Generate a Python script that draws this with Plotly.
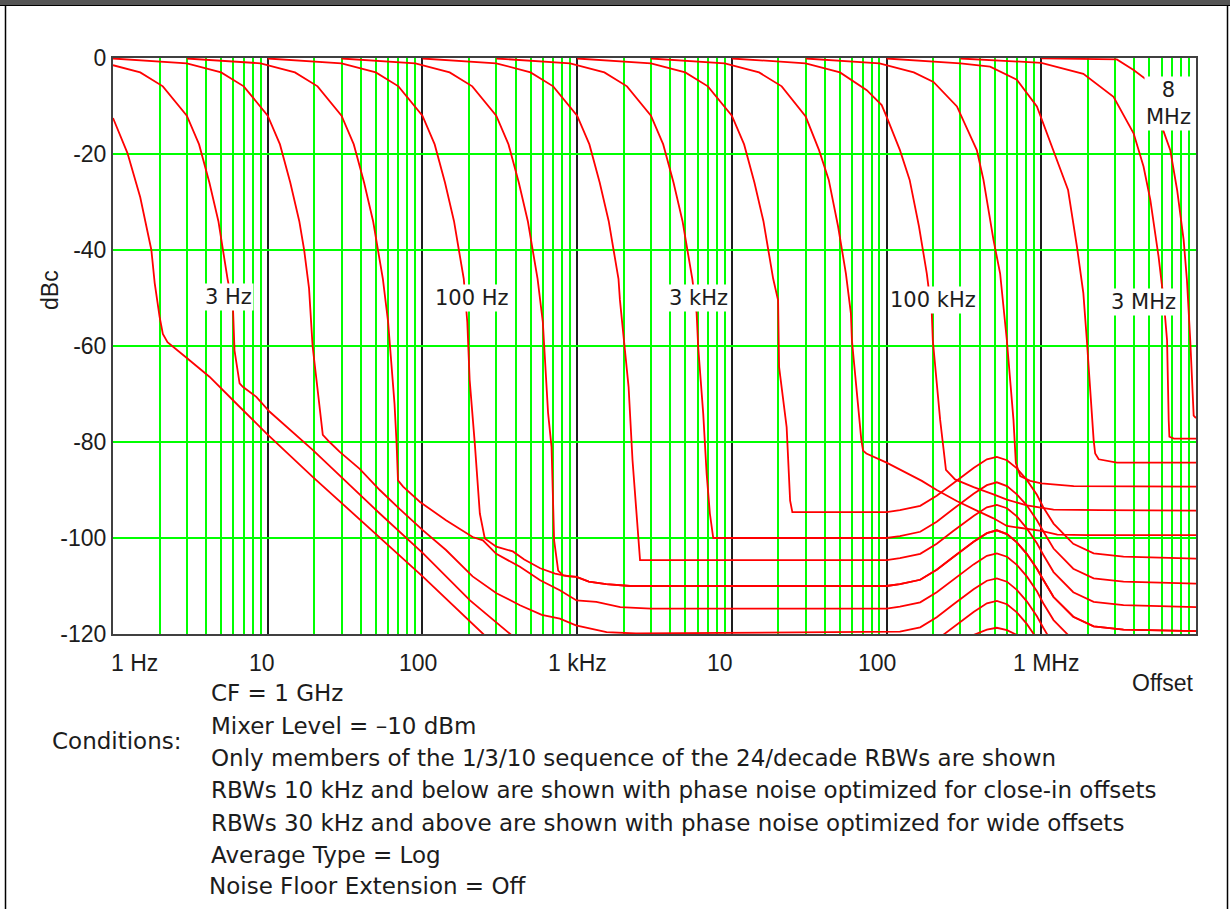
import plotly.graph_objects as go

# ---------------- data (offset in Hz, level in dBc) ----------------
# close-in optimized RBWs: filter skirt / phase-noise part
f_1hz = [1, 1.24, 1.5, 1.77, 1.86, 2.0, 2.1, 2.25, 3.0, 4.2, 6.5, 9.8, 19.6, 53, 101, 247, 300, 1000]
db_1hz = [-12.5, -19.8, -29, -40, -46.9, -53.9, -57.5, -59.2, -62.5, -66.4, -72.5, -78.2, -87.3, -99.8, -108.1, -120, -122.5, -130]

f_3hz = [1, 1.5, 2.1, 3, 3.6, 4.2, 4.8, 5.13, 5.5, 5.96, 6.1, 6.58, 6.9, 8.44, 10.3, 19.6, 53, 101, 203, 369, 420, 1000]
db_3hz = [-1.5, -3, -5.9, -12, -18, -26, -34, -40, -46, -51.9, -60.9, -67.8, -68.5, -70.6, -73.7, -81.7, -94.9, -103.2, -113, -120, -121.5, -124.6]

f_10hz = [1, 3, 5, 7, 10, 12, 14, 16, 17.2, 18.5, 19.5, 20.6, 21.6, 22.7, 25.1, 29.1, 39.3, 53, 71.4, 100, 142, 211, 301,
          427, 591, 773, 982, 1550, 2400]
db_10hz = [-0.1, -1.1, -3, -5.9, -12, -18, -26, -34, -40, -48, -60, -67, -73, -78.5, -80, -82, -85.6, -90, -94, -98.3, -102.5,
           -108, -111.5, -114, -116, -116.8, -118.2, -119.6, -119.9]

f_30hz = [3, 9, 15, 21, 30, 36, 42, 48, 51.6, 55.5, 60, 63, 66, 68, 69.5, 75, 96.5, 142, 211, 246, 300, 427, 577, 773, 991,
          1330, 1900, 3000]
db_30hz = [-0.1, -1.1, -3, -5.9, -12, -18, -26, -34, -40, -46, -55, -64, -72, -80, -88, -89.3, -92.5, -96.3, -99.8, -100.5,
           -103.3, -106, -108.8, -110.9, -113, -113.3, -114.4, -114.7]

f_100hz = [10, 30, 50, 70, 100, 120, 140, 160, 172, 185, 195, 202, 218, 235, 253, 300, 384, 455, 577, 720, 880, 991, 1190,
           1540, 2200]
db_100hz = [-0.1, -1.1, -3, -5.9, -12, -18, -26, -34, -40, -46, -55, -67.1, -80.3, -94.9, -100.1, -101.8, -102.8, -104.5,
            -106.3, -107.4, -108, -108.1, -109.1, -109.6, -110]

f_300hz = [30, 90, 150, 210, 300, 360, 420, 480, 516, 555, 600, 634, 649, 683, 699, 710, 754, 811, 991, 1190, 1540, 2200]
db_300hz = [-0.1, -1.1, -3, -5.9, -12, -18, -26, -34, -40, -46, -55, -67.1, -74, -81, -91.4, -100.5, -106.8, -107.8, -108.1,
            -109.1, -109.6, -110]

f_1khz = [100, 300, 500, 700, 1000, 1200, 1400, 1600, 1720, 1850, 1890, 1990, 2150, 2280, 2420, 2550]
db_1khz = [-0.1, -1.1, -3, -5.9, -12, -18, -26, -34, -40, -46, -50.4, -57.4, -68.5, -83.8, -94.9, -104.6]

f_3khz = [300, 900, 1500, 2100, 3000, 3600, 4200, 4800, 5160, 5550, 5920, 6060, 6530, 6870, 7210, 7580]
db_3khz = [-0.1, -1.1, -3, -5.9, -12, -18, -26, -34, -40, -46, -53.2, -60.2, -74.1, -86.6, -94.9, -100]

f_10khz = [1000, 3000, 5000, 7000, 10000, 12000, 14000, 16000, 17200, 18500, 19900, 20200, 22600, 23800, 24600]
db_10khz = [-0.1, -1.1, -3, -5.9, -12, -18, -26, -34, -40, -46, -50.5, -64.4, -76.9, -92.2, -94.6]

# close-in optimized RBWs: plateau, loop-bandwidth bump, far-out level
bump_off = [100e3, 122e3, 165e3, 211e3, 271e3, 365e3, 445e3, 516e3, 600e3, 695e3, 806e3, 937e3, 1.03e6, 1.2e6, 1.61e6,
            2.18e6, 3.4e6, 10e6]
bump_1hz = [-130, -129.6, -128.7, -126.6, -123.4, -120.2, -119.1, -118.7, -119.2, -120.2, -121.8, -125, -128.8, -132, -136,
            -138, -139, -139]
bump_3hz = [-124.6, -124.2, -123.3, -121.2, -118.5, -115.4, -113.6, -113.1, -113.8, -115.5, -117.9, -121.0, -123.4, -127,
            -131, -133, -134, -134]
bump_10hz = [-119.6, -119.5, -118.6, -116.5, -113.8, -110.7, -108.9, -108.4, -109.1, -110.8, -113.2, -116.3, -118.7, -122.3,
             -126.5, -128.5, -129.2, -129.5]
bump_30hz = [-114.7, -114.3, -113.4, -111.3, -108.6, -105.5, -103.7, -103.2, -103.9, -105.6, -108.0, -111.1, -113.6, -117.1,
             -121.3, -123.3, -124.0, -124.4]
bump_100hz = [-110.0, -109.6, -108.7, -106.6, -103.9, -100.8, -99.0, -98.4, -99.2, -100.9, -103.3, -106.4, -108.7, -112.3,
              -116.4, -118.4, -119.1, -119.4]
bump_300hz = [-110.0, -109.6, -108.7, -106.6, -103.9, -100.8, -99.0, -98.4, -99.2, -100.9, -103.3, -106.4, -108.7, -112.3,
              -116.4, -118.4, -119.1, -119.4]
bump_1khz = [-104.6, -104.2, -103.3, -101.2, -98.5, -95.4, -93.6, -93.1, -93.8, -95.5, -98.0, -101.1, -103.5, -107.1, -111.3,
             -113.3, -114.0, -114.4]
bump_3khz = [-100.0, -99.6, -98.7, -96.6, -93.9, -90.8, -89.0, -88.4, -89.2, -90.9, -93.2, -96.3, -98.6, -102.2, -106.4,
             -108.4, -109.1, -109.5]
bump_10khz = [-94.6, -94.2, -93.3, -91.2, -88.5, -85.4, -83.6, -83.1, -83.8, -85.5, -87.9, -91.0, -93.6, -97.0, -101.2,
              -103.2, -103.9, -104.3]

# wide-offset optimized RBWs
f_30khz = [3e3, 9e3, 15e3, 21e3, 30e3, 36.6e3, 42.3e3, 48.6e3, 54.6e3, 58.8e3, 59.7e3, 66.6e3, 68.7e3, 70.5e3, 74e3, 100e3,
           135e3, 169e3, 211e3, 284e3, 383e3, 491e3, 599e3, 806e3, 1.0e6, 1.27e6, 2e6, 10e6]
db_30khz = [-0.1, -1.1, -3, -5.9, -12.2, -19.2, -25.4, -35.1, -44.9, -53.2, -58.8, -75.4, -79.6, -81.8, -82.4, -84.3, -86.4,
            -88.1, -90, -92.3, -94.3, -95.9, -97.5, -98, -98.5, -99.3, -99.4, -99.4]

f_100khz = [10e3, 30e3, 50e3, 74.5e3, 93e3, 100e3, 122e3, 141e3, 162e3, 182e3, 196e3, 199e3, 222e3, 229e3, 235e3, 242e3,
            277e3, 365e3, 491e3, 599e3, 806e3, 1.0e6, 1.2e6, 2.42e6, 10e6]
db_100khz = [-0.1, -1.1, -3, -6.7, -9.8, -12.2, -19.2, -25.4, -35.1, -44.9, -53.2, -58.8, -75.4, -79.6, -82.4, -85.8, -87.8,
             -89.4, -90.9, -92, -93.2, -93.7, -94.1, -94.2, -94.3]

f_300khz = [30e3, 90e3, 150e3, 201e3, 285e3, 383e3, 423e3, 491e3, 542e3, 599e3, 661e3, 670e3, 685e3, 731e3, 848e3, 1.0e6,
            1.62e6, 10e6]
db_300khz = [-0.1, -1.1, -3, -5, -10.1, -19.2, -25.4, -37.9, -44.9, -58.8, -75.4, -79.6, -84.4, -87.1, -88.1, -88.6, -89.2,
             -89.3]

f_1mhz = [100e3, 300e3, 467e3, 695e3, 937e3, 1.2e6, 1.49e6, 1.7e6, 1.87e6, 1.97e6, 2.12e6, 2.18e6, 2.23e6, 2.35e6, 3.08e6,
          10e6]
db_1mhz = [-0.1, -1.1, -1.8, -4.5, -10.1, -19.2, -27.5, -39.3, -49, -58.8, -75.4, -79.6, -82.4, -83.6, -84.3, -84.3]

f_3mhz = [300e3, 1.0e6, 1.87e6, 2.93e6, 3.95e6, 4.58e6, 5.07e6, 5.73e6, 6.18e6, 6.5e6, 6.66e6, 6.73e6, 7.2e6, 10e6]
db_3mhz = [-0.1, -1, -3.3, -8.1, -15.7, -22.6, -29.6, -41.4, -50.4, -58.8, -75.4, -78.9, -79.3, -79.3]

f_8mhz = [1e6, 3.08e6, 3.95e6, 4.82e6, 5.33e6, 6.02e6, 6.82e6, 7.55e6, 8.32e6, 8.74e6, 9.18e6, 9.45e6, 9.66e6, 10e6]
db_8mhz = [-0.05, -0.3, -2.5, -4.6, -7.4, -14.3, -19.2, -27.5, -37.9, -46.3, -58.8, -67, -74.5, -75]

# axis ticks and labels
y_ticks = [0, -20, -40, -60, -80, -100, -120]
y_ticktext = ["0", "-20", "-40", "-60", "-80", "-100", "-120"]
x_decades = [1, 10, 100, 1e3, 1e4, 1e5, 1e6, 1e7]
x_ticktext = ["1 Hz", "10", "100", "1 kHz", "10", "100", "1 MHz"]

rbw_labels = ["3 Hz", "100 Hz", "3 kHz", "100 kHz", "3 MHz", "8<br>MHz"]

conditions = [
    "CF = 1 GHz",
    "Mixer Level = \u201310 dBm",
    "Only members of the 1/3/10 sequence of the 24/decade RBWs are shown",
    "RBWs 10 kHz and below are shown with phase noise optimized for close-in offsets",
    "RBWs 30 kHz and above are shown with phase noise optimized for wide offsets",
    "Average Type = Log",
    "Noise Floor Extension = Off",
]

# ---------------- figure ----------------
W, H = 1230, 909
X0, X1, Y0, Y1 = 113, 1196, 58, 634   # plot area in pixels


def pp(x, y):
    """pixel position -> paper coordinates"""
    return (x - X0) / (X1 - X0), (Y1 - y) / (Y1 - Y0)


TICKFONT = "Liberation Sans, Arial, sans-serif"
TEXTFONT = "DejaVu Sans, Verdana, sans-serif"
INK = "#1c1c1c"
RED = "#ff0000"

curves = [
    (f_1hz + bump_off, db_1hz + bump_1hz),
    (f_3hz + bump_off, db_3hz + bump_3hz),
    (f_10hz + bump_off, db_10hz + bump_10hz),
    (f_30hz + bump_off, db_30hz + bump_30hz),
    (f_100hz + bump_off, db_100hz + bump_100hz),
    (f_300hz + bump_off, db_300hz + bump_300hz),
    (f_1khz + bump_off, db_1khz + bump_1khz),
    (f_3khz + bump_off, db_3khz + bump_3khz),
    (f_10khz + bump_off, db_10khz + bump_10khz),
    (f_30khz, db_30khz),
    (f_100khz, db_100khz),
    (f_300khz, db_300khz),
    (f_1mhz, db_1mhz),
    (f_3mhz, db_3mhz),
    (f_8mhz, db_8mhz),
]

fig = go.Figure()
for xs, ys in curves:
    fig.add_trace(go.Scatter(x=xs, y=ys, mode="lines", line=dict(color=RED, width=1.8),
                             hoverinfo="skip", showlegend=False))

minor_ticks = [m * d for d in x_decades[:-1] for m in range(2, 10)]

fig.update_xaxes(type="log", range=[0, 7], tickvals=x_decades, showticklabels=False, ticks="",
                 showgrid=True, gridcolor="#1e1e1e", gridwidth=2,
                 minor=dict(tickvals=minor_ticks, showgrid=True, gridcolor="#00ff00", gridwidth=2, ticks=""),
                 showline=True, mirror=True, linecolor="#404040", linewidth=2, zeroline=False, fixedrange=True)
fig.update_yaxes(range=[-120, 0], tickvals=y_ticks, ticktext=y_ticktext, ticks="",
                 tickfont=dict(family=TICKFONT, size=23, color=INK),
                 showgrid=True, gridcolor="#00ff00", gridwidth=2,
                 showline=True, mirror=True, linecolor="#404040", linewidth=2, zeroline=False, fixedrange=True)

ann = []
# x tick labels (positions as in the original)
for text, cx in zip(x_ticktext, [134, 262, 418, 577, 720, 877, 1046]):
    x, y = pp(cx, 663)
    ann.append(dict(x=x, y=y, text=text, font=dict(family=TICKFONT, size=23, color=INK)))
x, y = pp(1163, 683)
ann.append(dict(x=x, y=y, text="Offset", font=dict(family=TICKFONT, size=23, color=INK)))
x, y = pp(50, 290)
ann.append(dict(x=x, y=y, text="dBc", textangle=-90, font=dict(family=TICKFONT, size=23, color=INK)))

# RBW labels on white boxes
for text, (cx, cy) in zip(rbw_labels, [(228, 297), (472, 298), (698, 298), (933, 300), (1143, 302), (1168, 103)]):
    x, y = pp(cx, cy)
    ann.append(dict(x=x, y=y, text=text, bgcolor="white", borderpad=1,
                    font=dict(family=TEXTFONT, size=21, color=INK)))

# conditions block
x, y = pp(50, 741)
ann.append(dict(x=x, y=y, text="Conditions:", xanchor="left", font=dict(family=TEXTFONT, size=23, color=INK)))
for i, line in enumerate(conditions):
    lx = 207 if i == len(conditions) - 1 else 209
    x, y = pp(lx, [693, 726, 758, 790, 823, 855, 886][i])
    ann.append(dict(x=x, y=y, text=line, xanchor="left", font=dict(family=TEXTFONT, size=23, color=INK)))

for a in ann:
    a.update(xref="paper", yref="paper", showarrow=False)
    a.setdefault("xanchor", "center")
    a.setdefault("yanchor", "middle")

# window frame: dark title band and side borders
shapes = []
bx0, by0 = pp(0, 0)
bx1, by1 = pp(W, 5)
shapes.append(dict(type="rect", xref="paper", yref="paper", x0=bx0, y0=by0, x1=bx1, y1=by1,
                   fillcolor="#555555", line=dict(width=0), layer="above"))
lx0, ly0 = pp(0, 5.5)
lx1, _ = pp(W, 5.5)
shapes.append(dict(type="line", xref="paper", yref="paper", x0=lx0, y0=ly0, x1=lx1, y1=ly0,
                   line=dict(color="black", width=1)))
for bxp in (5.5, 1227.5):
    sx, sy0 = pp(bxp, 5)
    _, sy1 = pp(bxp, H)
    shapes.append(dict(type="line", xref="paper", yref="paper", x0=sx, y0=sy0, x1=sx, y1=sy1,
                       line=dict(color="black", width=1.5)))

fig.update_layout(width=W, height=H, autosize=False,
                  margin=dict(l=X0, r=W - X1, t=Y0, b=H - Y1, pad=0),
                  paper_bgcolor="white", plot_bgcolor="white",
                  annotations=ann, shapes=shapes, showlegend=False,
                  font=dict(family=TICKFONT))

# the page's default 8px body margin would shift the whole picture
fig.write_html("out.html", config={"displayModeBar": False},
               post_script="document.body.style.margin = '0px';")
